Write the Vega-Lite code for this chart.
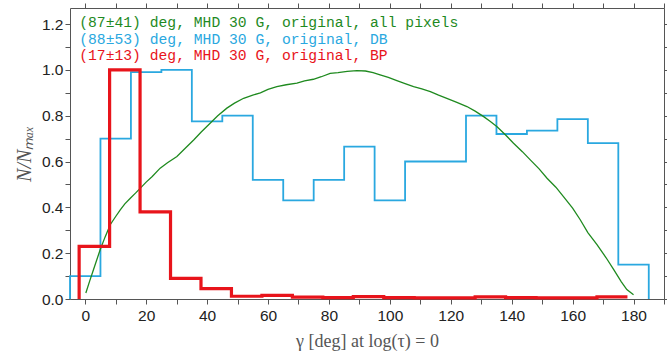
{
  "$schema": "https://vega.github.io/schema/vega-lite/v6.json",
  "width": 594,
  "height": 291,
  "autosize": {"type": "none"},
  "padding": {"left": 70, "top": 8, "right": 3, "bottom": 64},
  "background": "white",
  "config": {
    "view": {"stroke": "#555", "strokeWidth": 1},
    "axis": {
      "domain": false, "grid": false,
      "tickColor": "#555", "tickSize": 5, "tickWidth": 1,
      "labelFont": "Liberation Sans", "labelFontSize": 15.5, "labelColor": "#222",
      "titleFont": "Liberation Serif", "titleFontSize": 18, "titleFontWeight": "normal", "titleColor": "#555"
    }
  },
  "datasets": {
    "db": [
      {"gamma": -5, "n": 0, "series": "DB"},
      {"gamma": -5, "n": 0.10, "series": "DB"},
      {"gamma": 5, "n": 0.70, "series": "DB"},
      {"gamma": 15, "n": 0.99, "series": "DB"},
      {"gamma": 25, "n": 1.0, "series": "DB"},
      {"gamma": 35, "n": 0.775, "series": "DB"},
      {"gamma": 45, "n": 0.80, "series": "DB"},
      {"gamma": 55, "n": 0.52, "series": "DB"},
      {"gamma": 65, "n": 0.43, "series": "DB"},
      {"gamma": 75, "n": 0.52, "series": "DB"},
      {"gamma": 85, "n": 0.665, "series": "DB"},
      {"gamma": 95, "n": 0.43, "series": "DB"},
      {"gamma": 105, "n": 0.60, "series": "DB"},
      {"gamma": 115, "n": 0.60, "series": "DB"},
      {"gamma": 125, "n": 0.80, "series": "DB"},
      {"gamma": 135, "n": 0.72, "series": "DB"},
      {"gamma": 145, "n": 0.735, "series": "DB"},
      {"gamma": 155, "n": 0.785, "series": "DB"},
      {"gamma": 165, "n": 0.68, "series": "DB"},
      {"gamma": 175, "n": 0.15, "series": "DB"},
      {"gamma": 185, "n": 0, "series": "DB"}
    ],
    "all": [
      {"gamma": 0.2, "n": 0.026, "series": "all"},
      {"gamma": 1.5, "n": 0.08, "series": "all"},
      {"gamma": 2.7, "n": 0.128, "series": "all"},
      {"gamma": 4.9, "n": 0.215, "series": "all"},
      {"gamma": 6.5, "n": 0.27, "series": "all"},
      {"gamma": 8.2, "n": 0.324, "series": "all"},
      {"gamma": 10, "n": 0.36, "series": "all"},
      {"gamma": 11.5, "n": 0.389, "series": "all"},
      {"gamma": 13, "n": 0.415, "series": "all"},
      {"gamma": 14.8, "n": 0.44, "series": "all"},
      {"gamma": 16.5, "n": 0.462, "series": "all"},
      {"gamma": 18.1, "n": 0.484, "series": "all"},
      {"gamma": 20, "n": 0.51, "series": "all"},
      {"gamma": 22, "n": 0.535, "series": "all"},
      {"gamma": 24.6, "n": 0.571, "series": "all"},
      {"gamma": 27, "n": 0.595, "series": "all"},
      {"gamma": 30.1, "n": 0.622, "series": "all"},
      {"gamma": 33, "n": 0.66, "series": "all"},
      {"gamma": 35.6, "n": 0.694, "series": "all"},
      {"gamma": 38, "n": 0.728, "series": "all"},
      {"gamma": 41, "n": 0.767, "series": "all"},
      {"gamma": 43.5, "n": 0.80, "series": "all"},
      {"gamma": 46.5, "n": 0.833, "series": "all"},
      {"gamma": 49, "n": 0.855, "series": "all"},
      {"gamma": 52, "n": 0.876, "series": "all"},
      {"gamma": 55, "n": 0.89, "series": "all"},
      {"gamma": 57.5, "n": 0.90, "series": "all"},
      {"gamma": 60, "n": 0.915, "series": "all"},
      {"gamma": 62.9, "n": 0.927, "series": "all"},
      {"gamma": 66, "n": 0.935, "series": "all"},
      {"gamma": 69.5, "n": 0.942, "series": "all"},
      {"gamma": 72, "n": 0.952, "series": "all"},
      {"gamma": 74.9, "n": 0.959, "series": "all"},
      {"gamma": 77.5, "n": 0.97, "series": "all"},
      {"gamma": 80.4, "n": 0.985, "series": "all"},
      {"gamma": 83, "n": 0.988, "series": "all"},
      {"gamma": 86, "n": 0.993, "series": "all"},
      {"gamma": 89.2, "n": 0.997, "series": "all"},
      {"gamma": 92, "n": 0.995, "series": "all"},
      {"gamma": 94.5, "n": 0.988, "series": "all"},
      {"gamma": 96.8, "n": 0.978, "series": "all"},
      {"gamma": 99.5, "n": 0.967, "series": "all"},
      {"gamma": 102.3, "n": 0.953, "series": "all"},
      {"gamma": 105, "n": 0.94, "series": "all"},
      {"gamma": 107.8, "n": 0.927, "series": "all"},
      {"gamma": 110.5, "n": 0.917, "series": "all"},
      {"gamma": 113.3, "n": 0.905, "series": "all"},
      {"gamma": 116, "n": 0.89, "series": "all"},
      {"gamma": 118.7, "n": 0.876, "series": "all"},
      {"gamma": 122, "n": 0.858, "series": "all"},
      {"gamma": 125.3, "n": 0.84, "series": "all"},
      {"gamma": 128, "n": 0.82, "series": "all"},
      {"gamma": 130.8, "n": 0.796, "series": "all"},
      {"gamma": 133, "n": 0.775, "series": "all"},
      {"gamma": 135.2, "n": 0.752, "series": "all"},
      {"gamma": 138, "n": 0.716, "series": "all"},
      {"gamma": 140.6, "n": 0.68, "series": "all"},
      {"gamma": 143.5, "n": 0.643, "series": "all"},
      {"gamma": 146.1, "n": 0.607, "series": "all"},
      {"gamma": 149, "n": 0.568, "series": "all"},
      {"gamma": 151.6, "n": 0.527, "series": "all"},
      {"gamma": 154.5, "n": 0.488, "series": "all"},
      {"gamma": 157, "n": 0.447, "series": "all"},
      {"gamma": 160, "n": 0.397, "series": "all"},
      {"gamma": 162.5, "n": 0.346, "series": "all"},
      {"gamma": 165, "n": 0.29, "series": "all"},
      {"gamma": 168, "n": 0.237, "series": "all"},
      {"gamma": 171, "n": 0.18, "series": "all"},
      {"gamma": 173.5, "n": 0.128, "series": "all"},
      {"gamma": 176, "n": 0.075, "series": "all"},
      {"gamma": 177.8, "n": 0.041, "series": "all"},
      {"gamma": 180, "n": 0.019, "series": "all"}
    ],
    "bp": [
      {"gamma": -2, "n": 0, "series": "BP"},
      {"gamma": -2, "n": 0.23, "series": "BP"},
      {"gamma": 8, "n": 1.0, "series": "BP"},
      {"gamma": 18, "n": 0.38, "series": "BP"},
      {"gamma": 28, "n": 0.09, "series": "BP"},
      {"gamma": 38, "n": 0.045, "series": "BP"},
      {"gamma": 48, "n": 0.012, "series": "BP"},
      {"gamma": 58, "n": 0.016, "series": "BP"},
      {"gamma": 68, "n": 0.008, "series": "BP"},
      {"gamma": 78, "n": 0.006, "series": "BP"},
      {"gamma": 88, "n": 0.01, "series": "BP"},
      {"gamma": 98, "n": 0.006, "series": "BP"},
      {"gamma": 108, "n": 0.005, "series": "BP"},
      {"gamma": 118, "n": 0.005, "series": "BP"},
      {"gamma": 128, "n": 0.009, "series": "BP"},
      {"gamma": 138, "n": 0.006, "series": "BP"},
      {"gamma": 148, "n": 0.005, "series": "BP"},
      {"gamma": 158, "n": 0.005, "series": "BP"},
      {"gamma": 168, "n": 0.009, "series": "BP"},
      {"gamma": 178, "n": 0.009, "series": "BP"}
    ]
  },
  "encoding": {
    "x": {"field": "gamma", "type": "quantitative", "scale": {"domain": [-5, 190], "nice": false, "zero": false}},
    "y": {"field": "n", "type": "quantitative", "scale": {"domain": [0, 1.27], "nice": false}},
    "color": {
      "field": "series", "type": "nominal",
      "scale": {"domain": ["all", "DB", "BP"], "range": ["#1f8a1f", "#2aa8e0", "#e8141b"]},
      "legend": {
        "orient": "top-left", "offset": 7.5, "padding": 0, "title": null,
        "symbolSize": 0, "symbolOpacity": 0, "symbolStrokeWidth": 0, "labelOffset": -13.5,
        "labelFont": "Liberation Mono", "labelFontSize": 14.7, "rowPadding": 0.3, "labelLimit": 0,
        "labelExpr": "datum.label == 'all' ? '(87±41) deg, MHD 30 G, original, all pixels' : datum.label == 'DB' ? '(88±53) deg, MHD 30 G, original, DB' : '(17±13) deg, MHD 30 G, original, BP'",
        "encode": {"labels": {"update": {"fill": {"scale": "color", "field": "value"}}}}
      }
    }
  },
  "layer": [
    {
      "data": {"name": "db"},
      "mark": {"type": "line", "interpolate": "step-after", "strokeWidth": 1.8},
      "encoding": {
        "x": {"field": "gamma", "type": "quantitative", "scale": {"domain": [-5, 190], "nice": false, "zero": false},
          "axis": {"orient": "bottom", "values": [0,10,20,30,40,50,60,70,80,90,100,110,120,130,140,150,160,170,180,190],
            "labelExpr": "datum.value % 20 === 0 && datum.value <= 180 ? datum.label : ''",
            "labelPadding": 4, "title": "γ [deg] at log(τ) = 0", "titlePadding": 9}},
        "y": {"field": "n", "type": "quantitative", "scale": {"domain": [0, 1.27], "nice": false},
          "axis": {"orient": "left", "values": [0,0.1,0.2,0.3,0.4,0.5,0.6,0.7,0.8,0.9,1.0,1.1,1.2],
            "labelExpr": "round(datum.value*10) % 2 === 0 ? format(datum.value, '.1f') : ''",
            "labelPadding": 2, "title": "N/Nₘₐₓ", "titleFontStyle": "italic", "titleFontSize": 20, "titlePadding": 7}}
      }
    },
    {
      "data": {"name": "all"},
      "mark": {"type": "line", "strokeWidth": 1.3},
      "encoding": {
        "x": {"field": "gamma", "type": "quantitative",
          "axis": {"orient": "top", "values": [0,10,20,30,40,50,60,70,80,90,100,110,120,130,140,150,160,170,180,190], "labels": false, "title": null}},
        "y": {"field": "n", "type": "quantitative",
          "axis": {"orient": "right", "values": [0,0.1,0.2,0.3,0.4,0.5,0.6,0.7,0.8,0.9,1.0,1.1,1.2], "labels": false, "title": null}}
      }
    },
    {
      "data": {"name": "bp"},
      "mark": {"type": "line", "interpolate": "step-after", "strokeWidth": 3.2},
      "encoding": {
        "x": {"field": "gamma", "type": "quantitative", "axis": null},
        "y": {"field": "n", "type": "quantitative", "axis": null}
      }
    }
  ],
  "resolve": {"axis": {"x": "independent", "y": "independent"}}
}
